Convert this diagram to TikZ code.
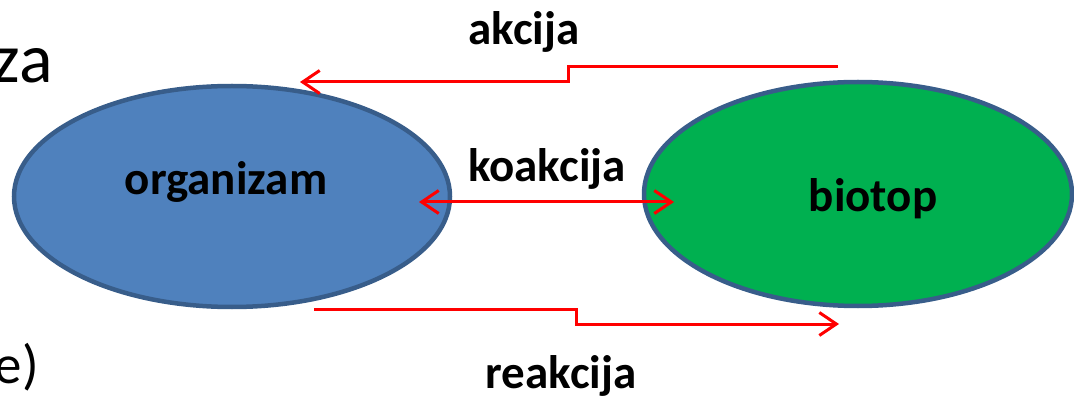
\documentclass[tikz,border=0pt]{standalone}
\usepackage{fontspec}
\setmainfont{Carlito}
\usetikzlibrary{shapes.geometric,arrows.meta}
\definecolor{orgfill}{HTML}{4F81BD}
\definecolor{bioline}{HTML}{385D8A}
\definecolor{biofill}{HTML}{00B050}
\definecolor{arrred}{HTML}{FF0000}
\begin{document}
\begin{tikzpicture}[x=1pt,y=-1pt,
  blob/.style={ellipse,draw=bioline,line width=4.5pt,inner sep=0pt},
  lbl/.style={font=\fontsize{47}{56}\selectfont\bfseries,inner sep=0pt,anchor=base},
  slide/.style={inner sep=0pt,anchor=base east},
  rel/.style={draw=arrred,line width=3pt,-{Straight Barb[length=17pt,width=23pt]}},
  relboth/.style={draw=arrred,line width=3pt,{Straight Barb[length=17pt,width=23pt]}-{Straight Barb[length=17pt,width=23pt]}}]
\useasboundingbox (0,0) rectangle (1074,398);
% slide fragments
\node[slide,font=\fontsize{70}{84}\selectfont] (za) at (53,83) {za};
\node[slide,font=\fontsize{55}{66}\selectfont] (ee) at (39,383) {e)};
% ellipses
\node[blob,fill=orgfill,minimum width=436pt,minimum height=221pt] (org) at (232,196.5) {};
\node[blob,fill=biofill,minimum width=428pt,minimum height=224pt] (bio) at (858,194) {};
% texts
\node[lbl] (orgt) at (226,195) {organizam};
\node[lbl] (biot) at (873,212) {biotop};
\node[lbl] (akt) at (524,45) {akcija};
\node[lbl] (koakt) at (547,182) {koakcija};
\node[lbl] (reakt) at (561,388) {reakcija};
% connector endpoints
\coordinate (akS) at (838,67);
\coordinate (akE) at (300,82);
\coordinate (koL) at (419,202);
\coordinate (koR) at (674,202);
\coordinate (reS) at (314,309);
\coordinate (reE) at (839,324);
% arrows
\draw[rel] (akS) -- (568,67) -- (568,82) -- (akE);
\draw[relboth] (koL) -- (koR);
\draw[rel] (reS) -- (576,309) -- (576,324) -- (reE);
\end{tikzpicture}
\end{document}
